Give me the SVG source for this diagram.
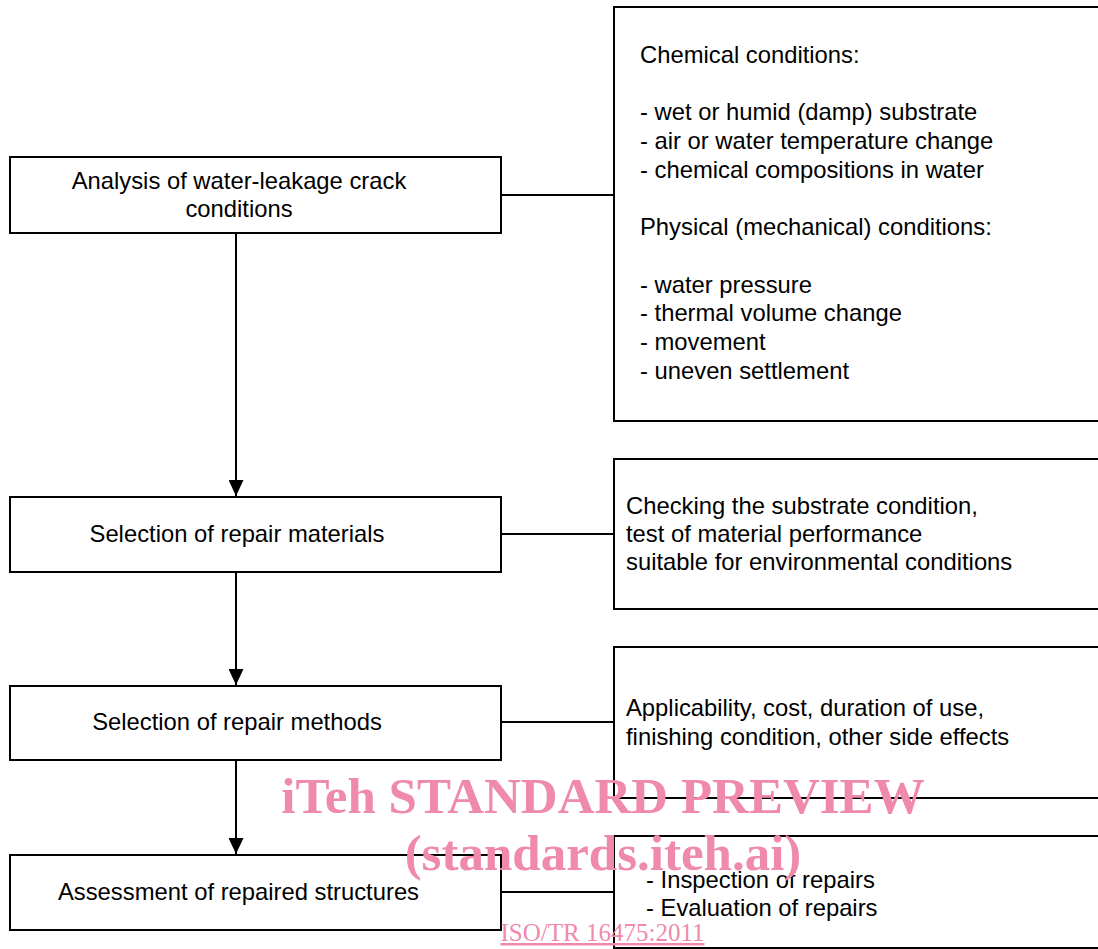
<svg xmlns="http://www.w3.org/2000/svg" width="1098" height="949" viewBox="0 0 1098 949">
<style>
.box{fill:#fff;stroke:#000;stroke-width:2}
.t{font-family:"Liberation Sans",Arial,sans-serif;font-size:23.8px;fill:#000}
.c{text-anchor:middle}
.ln{stroke:#000;stroke-width:2;fill:none}
.wm{font-family:"Liberation Serif","Times New Roman",serif;fill:#ef8aab}
</style>
<defs>
<marker id="ah" markerWidth="16" markerHeight="15" refX="16" refY="7.5" orient="auto" markerUnits="userSpaceOnUse">
<path d="M0,0 L16,7.5 L0,15 Z" fill="#000"/>
</marker>
</defs>
<rect width="1098" height="949" fill="#fff"/>
<g id="conn">
<line class="ln" x1="236" y1="233" x2="236" y2="496" marker-end="url(#ah)"/>
<line class="ln" x1="236" y1="572" x2="236" y2="685" marker-end="url(#ah)"/>
<line class="ln" x1="236" y1="760" x2="236" y2="854" marker-end="url(#ah)"/>
<line class="ln" x1="501" y1="195" x2="614" y2="195"/>
<line class="ln" x1="501" y1="534" x2="614" y2="534"/>
<line class="ln" x1="501" y1="722" x2="614" y2="722"/>
<line class="ln" x1="501" y1="892" x2="614" y2="892"/>
</g>
<g id="n1">
<rect class="box" x="10" y="157" width="491" height="76"/>
<text class="t c" x="239" y="189">Analysis of water-leakage crack</text>
<text class="t c" x="239" y="217">conditions</text>
</g>
<g id="r1">
<rect class="box" x="614" y="7" width="500" height="414"/>
<text class="t" x="640" y="63">Chemical conditions:</text>
<text class="t" x="640" y="120">- wet or humid (damp) substrate</text>
<text class="t" x="640" y="149">- air or water temperature change</text>
<text class="t" x="640" y="178">- chemical compositions in water</text>
<text class="t" x="640" y="235">Physical (mechanical) conditions:</text>
<text class="t" x="640" y="293">- water pressure</text>
<text class="t" x="640" y="321">- thermal volume change</text>
<text class="t" x="640" y="350">- movement</text>
<text class="t" x="640" y="379">- uneven settlement</text>
</g>
<g id="n2">
<rect class="box" x="10" y="497" width="491" height="75"/>
<text class="t c" x="237" y="542">Selection of repair materials</text>
</g>
<g id="r2">
<rect class="box" x="614" y="459" width="500" height="150"/>
<text class="t" x="626" y="514">Checking the substrate condition,</text>
<text class="t" x="626" y="542">test of material performance</text>
<text class="t" x="626" y="570">suitable for environmental conditions</text>
</g>
<g id="n3">
<rect class="box" x="10" y="686" width="491" height="74"/>
<text class="t c" x="237" y="730">Selection of repair methods</text>
</g>
<g id="r3">
<rect class="box" x="614" y="647" width="500" height="151"/>
<text class="t" x="626" y="716">Applicability, cost, duration of use,</text>
<text class="t" x="626" y="745">finishing condition, other side effects</text>
</g>
<g id="n4">
<rect class="box" x="10" y="855" width="491" height="75"/>
<text class="t c" x="238.5" y="900">Assessment of repaired structures</text>
</g>
<g id="r4">
<rect class="box" x="614" y="836" width="500" height="112"/>
<text class="t" x="646" y="888">- Inspection of repairs</text>
<text class="t" x="646" y="916">- Evaluation of repairs</text>
</g>
<g id="watermark">
<text class="wm" x="603" y="813" font-size="51" font-weight="bold" text-anchor="middle">iTeh STANDARD PREVIEW</text>
<text class="wm" x="603" y="870" font-size="51" font-weight="bold" text-anchor="middle">(standards.iteh.ai)</text>
<text class="wm" x="602.5" y="941" font-size="25" text-anchor="middle" text-decoration="underline">ISO/TR 16475:2011</text>
</g>
</svg>
